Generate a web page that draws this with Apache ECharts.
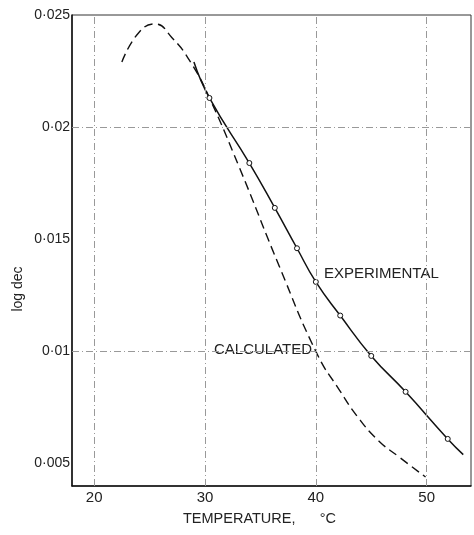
<!DOCTYPE html>
<html>
<head>
<meta charset="utf-8">
<script src="https://cdn.jsdelivr.net/npm/echarts@6/dist/echarts.min.js"></script>
<style>
html,body{margin:0;padding:0;background:#fff;}
#c{width:474px;height:535px;}
</style>
</head>
<body>
<div id="c"></div>
<script>
// Experimental curve (solid), with measured points
var expTemp = [29.0, 30.4, 34.0, 36.3, 38.3, 40.0, 42.2, 45.0, 48.1, 51.9, 53.3];
var expVal  = [0.0229, 0.0213, 0.0184, 0.0164, 0.0146, 0.0131, 0.0116, 0.0098, 0.0082, 0.0061, 0.0054];
// Calculated curve (dashed)
var calTemp = [22.5, 24.0, 25.5, 27.0, 28.7, 30.4, 33.1, 36.7, 40.1, 42.1, 43.9, 45.7, 47.5, 49.9];
var calVal  = [0.0229, 0.0242, 0.0246, 0.0240, 0.0229, 0.0213, 0.0182, 0.0138, 0.0099, 0.0083, 0.0070, 0.0060, 0.0053, 0.0044];
// Tick labels
var xTicks = [20, 30, 40, 50];
var yTicks = [0.005, 0.01, 0.015, 0.02, 0.025];
var yTickLabels = ['0·005', '0·01', '0·015', '0·02', '0·025'];

var font = 'Liberation Sans, Arial, sans-serif';
function zip(a, b) { return a.map(function (v, i) { return [v, b[i]]; }); }
function near(v, arr) { for (var i = 0; i < arr.length; i++) if (Math.abs(v - arr[i]) < 1e-7) return i; return -1; }

var gridStyle = { color: '#999', width: 1, type: [7, 3, 1, 3] };
var chart = echarts.init(document.getElementById('c'));
chart.setOption({
  backgroundColor: '#fff',
  animation: false,
  grid: { left: 72, right: 3, top: 15, bottom: 49, show: true, borderColor: '#333', borderWidth: 1 },
  xAxis: {
    type: 'value', min: 18, max: 54, interval: 2,
    axisLine: { lineStyle: { color: '#111', width: 1.5 } },
    axisTick: { show: false },
    splitLine: { show: false },
    axisLabel: {
      margin: 4, color: '#222', fontFamily: font, fontSize: 15,
      formatter: function (v) { return near(v, xTicks) >= 0 ? String(v) : ''; }
    }
  },
  yAxis: {
    type: 'value', min: 0.004, max: 0.025, interval: 0.001,
    axisLine: { lineStyle: { color: '#111', width: 1.5 } },
    axisTick: { show: false },
    splitLine: { show: false },
    axisLabel: {
      margin: 2, color: '#222', fontFamily: font, fontSize: 14,
      formatter: function (v) { var i = near(v, yTicks); return i >= 0 ? yTickLabels[i] : ''; }
    }
  },
  graphic: [
    { type: 'text', left: 183, top: 511, style: { text: 'TEMPERATURE,      °C', font: '14.5px ' + font, fill: '#222' } },
    { type: 'text', x: 18, y: 289, rotation: Math.PI / 2, style: { text: 'log dec', font: '14px ' + font, fill: '#222', align: 'center', verticalAlign: 'middle' } },
    { type: 'text', left: 324, top: 266, style: { text: 'EXPERIMENTAL', font: '15px ' + font, fill: '#222' } },
    { type: 'text', left: 214, top: 342, style: { text: 'CALCULATED', font: '15px ' + font, fill: '#222' } }
  ],
  series: [
    {
      type: 'line', name: 'grid', data: [], silent: true,
      markLine: {
        symbol: 'none', silent: true, label: { show: false },
        lineStyle: gridStyle,
        data: xTicks.map(function (v) { return { xAxis: v }; })
          .concat(yTicks.filter(function (v) { return v < 0.025; }).map(function (v) { return { yAxis: v }; }))
      }
    },
    {
      type: 'line', name: 'CALCULATED', data: zip(calTemp, calVal), smooth: 0.5,
      showSymbol: false, symbol: 'none',
      lineStyle: { color: '#111', width: 1.4, type: [9, 5] }
    },
    {
      type: 'line', name: 'EXPERIMENTAL', data: zip(expTemp, expVal), smooth: 0.5,
      symbol: 'circle',
      symbolSize: function (v, p) { return (p.dataIndex === 0 || p.dataIndex === expTemp.length - 1) ? 0 : 5; },
      itemStyle: { color: '#fff', borderColor: '#111', borderWidth: 1 },
      lineStyle: { color: '#111', width: 1.5 },
      z: 3
    }
  ]
});
</script>
</body>
</html>
